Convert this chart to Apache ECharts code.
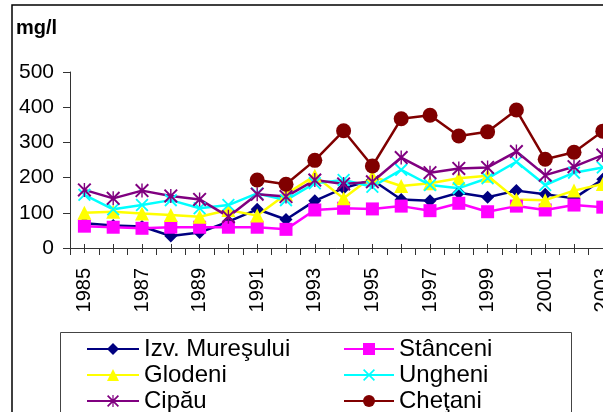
<!DOCTYPE html>
<html>
<head>
<meta charset="utf-8">
<script src="https://cdn.jsdelivr.net/npm/echarts@6/dist/echarts.min.js"></script>
<style>
html,body{margin:0;padding:0;background:#fff;}
#c{width:603px;height:412px;}
</style>
</head>
<body>
<div id="c"></div>
<script>
var years = ['1985','1986','1987','1988','1989','1990','1991','1992','1993','1994','1995','1996','1997','1998','1999','2000','2001','2002','2003'];
var izvMuresului = [70,64,61,34,44,75,110,81,134,170,193,138,134,157,144,163,153,141,195];
var stanceni = [62,59,56,59,59,59,59,53,108,113,111,119,106,127,103,119,108,122,116];
var glodeni = [100,103,98,94,89,108,92,153,205,141,203,176,184,198,205,138,136,163,182];
var ungheni = [151,110,122,136,113,122,155,136,184,193,174,222,179,170,198,245,179,214,229];
var cipau = [165,141,163,148,138,89,153,146,193,182,188,257,214,226,229,274,207,231,264];
var chetani = [null,null,null,null,null,null,193,181,249,333,233,367,377,318,330,392,252,272,332];
var yTicks = [0,100,200,300,400,500];

var FONT = '"Liberation Sans", Arial, sans-serif';
var starPath = 'path://M0,2L2,0L20,18L18,20ZM18,0L20,2L2,20L0,18ZM9,0L11,0L11,20L9,20Z';
var xPath = 'path://M0,2L2,0L20,18L18,20ZM18,0L20,2L2,20L0,18Z';

function mk(name, data, color, symbol, size) {
  return {
    name: name, type: 'line', data: data,
    symbol: symbol, symbolSize: size,
    lineStyle: {color: color, width: 2.5},
    itemStyle: {color: color},
    connectNulls: false,
    z: 3
  };
}

var chart = echarts.init(document.getElementById('c'), null, {renderer: 'canvas'});
var xBase = {type: 'category', data: years, boundaryGap: true, position: 'bottom', gridIndex: 0};
var legendText = {fontFamily: FONT, fontSize: 24, lineHeight: 24, color: '#000'};
chart.setOption({
  animation: false,
  backgroundColor: '#fff',
  title: {text: 'mg/l', left: 16, top: 18, padding: 0,
    textStyle: {fontFamily: FONT, fontSize: 20, fontWeight: 'bold', color: '#000'}},
  grid: {left: 70, top: 72, width: 547.2, height: 176, containLabel: false, outerBoundsMode: 'none'},
  xAxis: [
    Object.assign({}, xBase, {
      axisLine: {show: true, lineStyle: {color: '#333', width: 1}},
      axisTick: {show: true, interval: 0, alignWithLabel: false, length: 7, lineStyle: {color: '#333'}},
      axisLabel: {show: true, interval: 1, rotate: 90, margin: 20, color: '#000',
        fontFamily: FONT, fontSize: 20},
      splitLine: {show: false}
    }),
    Object.assign({}, xBase, {
      axisLine: {show: false},
      axisTick: {show: true, interval: 0, alignWithLabel: true, length: 5, lineStyle: {color: '#333'}},
      axisLabel: {show: false}, splitLine: {show: false}
    }),
    Object.assign({}, xBase, {
      axisLine: {show: false},
      axisTick: {show: true, interval: 0, alignWithLabel: true, inside: true, length: 4, lineStyle: {color: '#333'}},
      axisLabel: {show: false}, splitLine: {show: false}
    })
  ],
  yAxis: {
    type: 'value', min: yTicks[0], max: yTicks[yTicks.length - 1], interval: 100,
    axisLine: {show: true, lineStyle: {color: '#333', width: 1}},
    axisTick: {show: true, length: 7, lineStyle: {color: '#333'}},
    axisLabel: {margin: 16, color: '#000', fontFamily: FONT, fontSize: 21},
    splitLine: {show: false}
  },
  legend: [
    {data: ['Izv. Mureşului', 'Glodeni', 'Cipău'], orient: 'vertical', left: 86, top: 337,
      width: 250, height: 100,
      padding: 0, itemWidth: 52, itemHeight: 15, itemGap: 2, textStyle: legendText},
    {data: ['Stânceni', 'Ungheni', 'Cheţani'], orient: 'vertical', left: 343, top: 337,
      width: 250, height: 100,
      padding: 0, itemWidth: 50, itemHeight: 15, itemGap: 2, textStyle: legendText}
  ],
  graphic: [
    {type: 'rect', shape: {x: 12, y: 5, width: 800, height: 600},
      style: {fill: 'none', stroke: '#000', lineWidth: 1.5}, silent: true, z: -1},
    {type: 'rect', shape: {x: 60.5, y: 332.5, width: 511, height: 120},
      style: {fill: 'none', stroke: '#444', lineWidth: 1}, silent: true, z: -1}
  ],
  series: [
    mk('Izv. Mureşului', izvMuresului, '#000080', 'diamond', 13),
    mk('Stânceni', stanceni, '#FF00FF', 'rect', 13),
    mk('Glodeni', glodeni, '#FFFF00', 'triangle', 14),
    mk('Ungheni', ungheni, '#00FFFF', xPath, 13),
    mk('Cipău', cipau, '#800080', starPath, 14),
    mk('Cheţani', chetani, '#800000', 'circle', 15)
  ]
});
</script>
</body>
</html>
